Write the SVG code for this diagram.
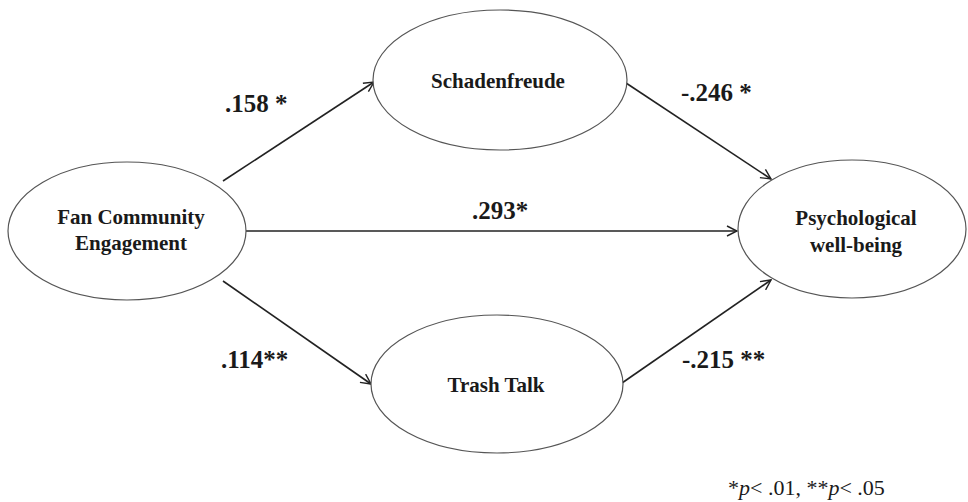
<svg xmlns="http://www.w3.org/2000/svg" width="968" height="502" viewBox="0 0 968 502">
<defs>
<style>
.node ellipse{fill:#fff;stroke:#555;stroke-width:1.2}
.nt{font-family:"Liberation Serif","Times New Roman",serif;font-weight:bold;font-size:21px;fill:#1a1a1a;text-anchor:middle}
.el{font-family:"Liberation Serif","Times New Roman",serif;font-weight:bold;font-size:25px;fill:#1a1a1a}
.conn line{stroke:#222;stroke-width:1.6;marker-end:url(#ah)}
.fn{font-family:"Liberation Serif","Times New Roman",serif;font-size:22px;fill:#1a1a1a}
</style>
<marker id="ah" viewBox="0 0 12 12" refX="11" refY="6" markerWidth="12" markerHeight="12" markerUnits="userSpaceOnUse" orient="auto">
<path d="M1,1 L11,6 L1,11" fill="none" stroke="#222" stroke-width="1.4"/>
</marker>
</defs>
<rect width="968" height="502" fill="#fff"/>
<g class="conn">
<line x1="223" y1="181" x2="374" y2="82"/>
<line x1="246" y1="231" x2="737" y2="231"/>
<line x1="223" y1="281" x2="371" y2="384"/>
<line x1="623" y1="81" x2="771" y2="179"/>
<line x1="622" y1="383" x2="771" y2="280"/>
</g>
<g id="fce" class="node">
<ellipse cx="127" cy="231" rx="119" ry="69"/>
<text class="nt" x="131" y="224">Fan Community</text>
<text class="nt" x="131" y="250">Engagement</text>
</g>
<g id="schadenfreude" class="node">
<ellipse cx="500" cy="80" rx="127" ry="70"/>
<text class="nt" x="498" y="88">Schadenfreude</text>
</g>
<g id="trashtalk" class="node">
<ellipse cx="497" cy="384" rx="126" ry="69"/>
<text class="nt" x="496" y="392">Trash Talk</text>
</g>
<g id="pwb" class="node">
<ellipse cx="852" cy="229" rx="114" ry="69"/>
<text class="nt" x="856" y="225">Psychological</text>
<text class="nt" x="856" y="252">well-being</text>
</g>
<g id="labels">
<text class="el" x="225" y="112">.158 *</text>
<text class="el" x="472" y="219">.293*</text>
<text class="el" x="681" y="101">-.246 *</text>
<text class="el" x="221" y="368">.114**</text>
<text class="el" x="682" y="368">-.215 **</text>
<text class="fn" x="728" y="495">*<tspan font-style="italic">p</tspan>&lt; .01, **<tspan font-style="italic">p</tspan>&lt; .05</text>
</g>
</svg>
